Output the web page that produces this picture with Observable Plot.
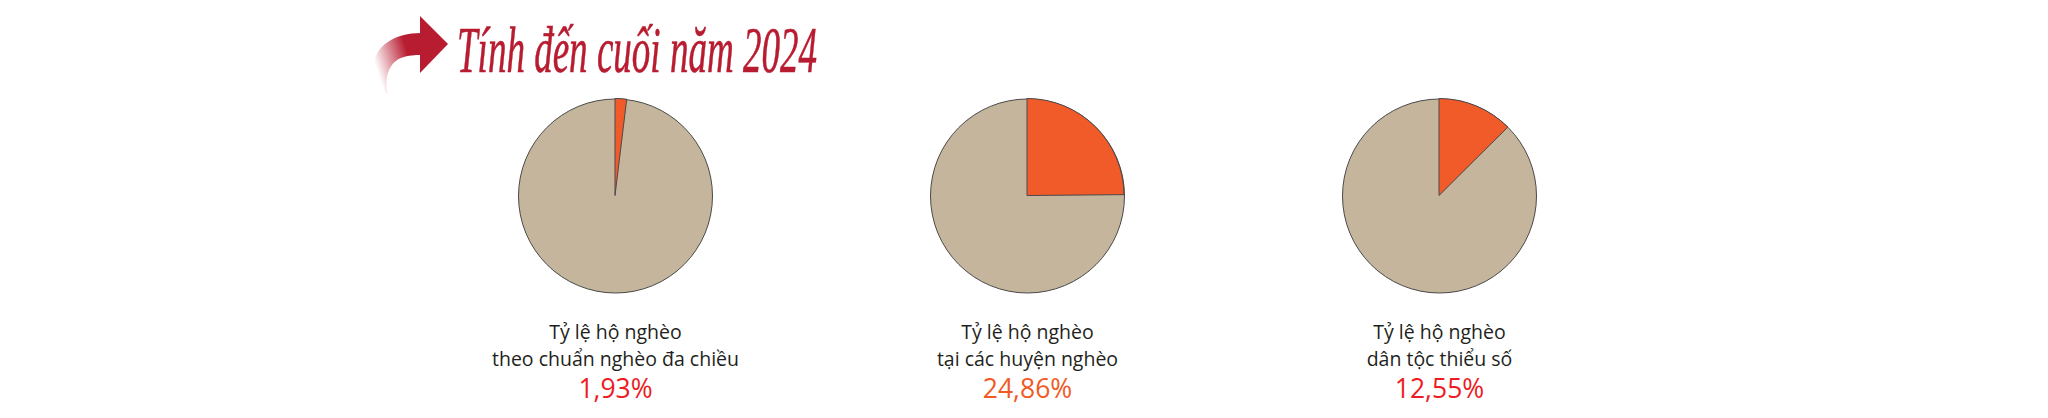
<!DOCTYPE html>
<html>
<head>
<meta charset="utf-8">
<script src="https://cdn.jsdelivr.net/npm/d3@7"></script>
<script src="https://cdn.jsdelivr.net/npm/@observablehq/plot@0.6"></script>
<style>
  html, body { margin: 0; padding: 0; background: #fff; }
  #wrap { position: relative; width: 2048px; height: 418px; overflow: hidden; }
  #title { position: absolute; left: 0; top: 0; }
  #chart { position: absolute; left: 0; top: 0; }
</style>
</head>
<body>
<div id="wrap">
  <div id="chart"></div>
  <svg id="title" width="2048" height="110" xmlns="http://www.w3.org/2000/svg">
    <defs>
      <linearGradient id="arrowGrad" x1="1" y1="0" x2="0" y2="0.4">
        <stop offset="0" stop-color="#b81c30"/>
        <stop offset="0.35" stop-color="#b81c30"/>
        <stop offset="1" stop-color="#ffffff"/>
      </linearGradient>
    </defs>
    <path d="M421,33 C396,33 373,45 373,70 C373,80 378,88 388,94 C384,80 388,63 401,58 C409,55 415,55 421,55 Z" fill="url(#arrowGrad)"/>
    <path d="M420,16 L448,44 L420,73 Z" fill="#b81c30"/>
    <text x="457" y="72" font-family="'Liberation Serif', serif" font-style="italic" font-size="66" fill="#b81c30" stroke="#b81c30" stroke-width="0.6" textLength="360" lengthAdjust="spacingAndGlyphs">Tính đến cuối năm 2024</text>
  </svg>
</div>
<script>
// ---- data ----
const categories = [
  "Tỷ lệ hộ nghèo\ntheo chuẩn nghèo đa chiều",
  "Tỷ lệ hộ nghèo\ntại các huyện nghèo",
  "Tỷ lệ hộ nghèo\ndân tộc thiểu số"
];
const values = [1.93, 24.86, 12.55];

// ---- styles ----
const percentColors = ["#ed1c24", "#f15a24", "#ed1c24"];
const tan = "#c4b59c";
const orange = "#f15a29";
const edge = "#4a4a4a";
const R = 97;

const data = categories.map((name, i) => ({
  name,
  value: values[i],
  pct: values[i].toFixed(2).replace(".", ",") + "%",
  color: percentColors[i]
}));

function wedges(index, scales, vals, dimensions) {
  const g = d3.create("svg:g");
  const cy = (dimensions.marginTop + dimensions.height - dimensions.marginBottom) / 2;
  const arc = d3.arc();
  data.forEach(d => {
    const cx = scales.x(d.name);
    g.append("path")
      .attr("transform", `translate(${cx},${cy})`)
      .attr("d", arc({innerRadius: 0, outerRadius: R, startAngle: 0, endAngle: 2 * Math.PI * d.value / 100}))
      .attr("fill", orange)
      .attr("stroke", edge)
      .attr("stroke-width", 1)
      .attr("stroke-linejoin", "round");
  });
  return g.node();
}

const chart = Plot.plot({
  width: 2048,
  height: 418,
  marginTop: 1,
  marginBottom: 28,
  marginLeft: 408,
  marginRight: 402,
  style: {fontFamily: "'Open Sans', sans-serif", background: "transparent"},
  x: {type: "point", domain: categories, padding: 0.5, axis: null},
  marks: [
    Plot.dot(data, {x: "name", r: R, fill: tan, stroke: edge, strokeWidth: 1}),
    wedges,
    Plot.text(data, {
      x: "name", text: "name", frameAnchor: "middle", lineAnchor: "top",
      dy: 123.2, fontSize: 19.5, lineHeight: 27.5 / 19.5, fill: "#231f20"
    }),
    Plot.text(data, {
      x: "name", text: "pct", frameAnchor: "middle", lineAnchor: "top",
      dy: 183.5, fontSize: 26.5, fill: d => d.color
    })
  ]
});
document.getElementById("chart").appendChild(chart);
</script>
</body>
</html>
